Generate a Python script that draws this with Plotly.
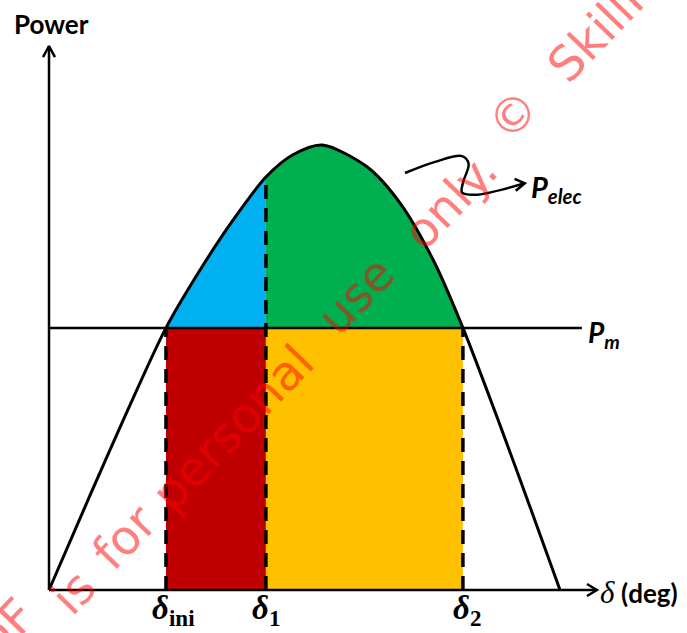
import plotly.graph_objects as go

# ---- data (delta in deg, power in p.u. of peak) ----
delta_curve = [0, 14.4, 26.1, 41.2, 53.2, 64.8, 76.4, 85.9, 96.2, 112.0, 123.6, 135.3, 145.8, 158.9, 170.5, 180]
p_curve = [0, 0.212, 0.381, 0.589, 0.719, 0.831, 0.928, 0.978, 1.0, 0.951, 0.870, 0.742, 0.589, 0.370, 0.168, 0]
p_m = 0.589
delta_ini = 41.2
delta_1 = 76.4
delta_2 = 145.8
p_at_delta1 = 0.928
x_axis_end = 193.0
y_axis_end = 1.2225
pm_line_end = 187.7

# squiggly pointer to P_elec
squig_x = [125.4, 136.0, 145.5, 147.8, 145.8, 145.5, 150.0, 167.6]
squig_y = [0.937, 0.962, 0.975, 0.958, 0.915, 0.893, 0.888, 0.914]

# watermark words and centres (px)
wm_words = ["PDF", "is", "for", "personal", "use", "only.", "©", "SkillP"]
wm_px = [(-6, 640), (73, 592), (124, 537), (232, 428), (356, 295), (450, 201), (513, 115), (600, 28)]

W, H = 687, 633
RED, YEL, BLUE, GREEN = "#C00000", "#FFC000", "#00B0F0", "#00B050"

fig = go.Figure()

def seg(lo, hi):
    xs, ys = [], []
    for d, p in zip(delta_curve, p_curve):
        if lo - 1e-9 <= d <= hi + 1e-9:
            xs.append(d); ys.append(p)
    return xs, ys

# red and yellow rectangles
fig.add_trace(go.Scatter(x=[delta_ini, delta_1, delta_1, delta_ini, delta_ini], y=[0, 0, p_m, p_m, 0],
                         fill="toself", fillcolor=RED, mode="lines", line=dict(width=0), hoverinfo="skip"))
fig.add_trace(go.Scatter(x=[delta_1, delta_2, delta_2, delta_1, delta_1], y=[0, 0, p_m, p_m, 0],
                         fill="toself", fillcolor=YEL, mode="lines", line=dict(width=0), hoverinfo="skip"))
# blue region
bx, by = seg(delta_ini, delta_1)
fig.add_trace(go.Scatter(x=[delta_ini, delta_1], y=[p_m, p_m], mode="lines", line=dict(width=0), hoverinfo="skip"))
fig.add_trace(go.Scatter(x=bx, y=by, mode="lines", line=dict(width=0, shape="spline"), fill="tonexty",
                         fillcolor=BLUE, hoverinfo="skip"))
# green region
gx, gy = seg(delta_1, delta_2)
fig.add_trace(go.Scatter(x=[delta_1, delta_2], y=[p_m, p_m], mode="lines", line=dict(width=0), hoverinfo="skip"))
fig.add_trace(go.Scatter(x=gx, y=gy, mode="lines", line=dict(width=0, shape="spline"), fill="tonexty",
                         fillcolor=GREEN, hoverinfo="skip"))

# dashed verticals
for xv, top in [(delta_ini, p_m), (delta_1, p_at_delta1), (delta_2, p_m)]:
    fig.add_trace(go.Scatter(x=[xv, xv], y=[0, top], mode="lines",
                             line=dict(color="black", width=3.5, dash="14px,9px"), hoverinfo="skip"))

# Pm line
fig.add_trace(go.Scatter(x=[0, pm_line_end], y=[p_m, p_m], mode="lines", line=dict(color="black", width=2.5)))
# power-angle curve
fig.add_trace(go.Scatter(x=delta_curve, y=p_curve, mode="lines",
                         line=dict(color="black", width=3, shape="spline", smoothing=0.8)))
# axes
fig.add_trace(go.Scatter(x=[0, x_axis_end], y=[0, 0], mode="lines", line=dict(color="black", width=2.5)))
fig.add_trace(go.Scatter(x=[0, 0], y=[0, y_axis_end], mode="lines", line=dict(color="black", width=2.5)))
fig.add_trace(go.Scatter(x=[x_axis_end - 3.5, x_axis_end, x_axis_end - 3.5], y=[0.0135, 0, -0.0135],
                         mode="lines", line=dict(color="black", width=2.5)))
fig.add_trace(go.Scatter(x=[-2.1, 0, 2.1], y=[y_axis_end - 0.025, y_axis_end, y_axis_end - 0.025],
                         mode="lines", line=dict(color="black", width=2.5)))
# squiggle pointer
fig.add_trace(go.Scatter(x=squig_x, y=squig_y, mode="lines",
                         line=dict(color="black", width=2.5, shape="spline", smoothing=1)))
tipx, tipy = squig_x[-1], squig_y[-1]
fig.add_trace(go.Scatter(x=[tipx - 3.2, tipx, tipx - 3.6], y=[tipy - 0.017, tipy, tipy + 0.010],
                         mode="lines", line=dict(color="black", width=2.5)))

ann = []
sans = "Lato, 'Liberation Sans', sans-serif"
serif = "'Liberation Serif', 'DejaVu Serif', serif"

def txt(x, y, text, size, family=sans, xanchor="center", yanchor="middle", xref="paper", xshift=0):
    return dict(x=x, y=y, xref=xref, yref="paper", text=text, showarrow=False, xanchor=xanchor,
                yanchor=yanchor, xshift=xshift, font=dict(family=family, size=size, color="black"))

ann.append(txt(51 / W, 1 - 24 / H, "<b>Power</b>", 26))
ann.append(txt(586 / W, 1 - 334 / H, "<b><i>P</i></b><sub><b><i>m</i></b></sub>", 28, xanchor="left"))
ann.append(txt(529 / W, 1 - 188 / H, "<b><i>P</i></b><sub><b><i>elec</i></b></sub>", 29, xanchor="left"))
ann.append(txt(598 / W, 1 - 592 / H,
               "<span style='font-family:Liberation Serif;font-size:31px'><i>δ</i></span> <b>(deg)</b>", 26,
               xanchor="left"))
for xv, sub, shift in [(delta_ini, "ini", 8), (delta_1, "1", 0), (delta_2, "2", 4)]:
    ann.append(txt(xv, 1 - 610 / H, f"<b><i>δ</i></b><sub><b>{sub}</b></sub>", 33, family=serif,
                   xref="x", xshift=shift))
for wtxt, (px, py) in zip(wm_words, wm_px):
    ann.append(dict(x=px / W, y=1 - py / H, xref="paper", yref="paper", text=wtxt, showarrow=False,
                    xanchor="center", yanchor="middle", textangle=-46,
                    font=dict(family="'DejaVu Sans', sans-serif", size=48, color="rgba(255,0,0,0.5)")))

fig.update_layout(
    width=W, height=H, margin=dict(l=0, r=0, t=0, b=0),
    paper_bgcolor="white", plot_bgcolor="white", showlegend=False,
    xaxis=dict(range=[-17.26, 224.73], visible=False, fixedrange=True),
    yaxis=dict(range=[-0.0966, 1.3258], visible=False, fixedrange=True),
    annotations=ann,
)
fig.write_html("out.html", config={"displayModeBar": False},
               post_script="document.body.style.margin='0';document.body.style.overflow='hidden';")
